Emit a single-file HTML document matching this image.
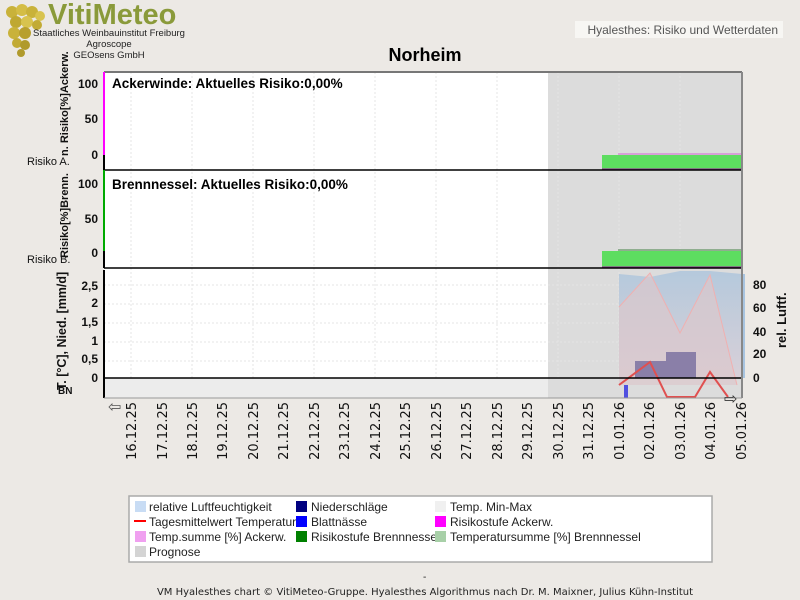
<!DOCTYPE html>
<html><head><meta charset="utf-8"><style>
body{margin:0;background:#ecE9e5;}
svg{display:block;font-family:"Liberation Sans",sans-serif;}
</style></head><body>
<svg width="800" height="600" viewBox="0 0 800 600">
<rect width="800" height="600" fill="#ece9e5"/>
<!-- logo -->
<g>
<circle cx="12" cy="12" r="6" fill="#c9b23a"/><circle cx="22" cy="10" r="6" fill="#d4bd45"/><circle cx="32" cy="12" r="6" fill="#c9b23a"/><circle cx="40" cy="16" r="5" fill="#d8c34e"/>
<circle cx="16" cy="22" r="6" fill="#bfa832"/><circle cx="27" cy="22" r="6" fill="#d8c34e"/><circle cx="37" cy="25" r="5" fill="#c2ab35"/>
<circle cx="14" cy="33" r="6" fill="#c9b23a"/><circle cx="25" cy="33" r="6" fill="#b89f2e"/>
<circle cx="17" cy="43" r="5" fill="#c2ab35"/><circle cx="25" cy="45" r="5" fill="#b09a2c"/><circle cx="21" cy="53" r="4" fill="#b09a2c"/>
</g>
<text x="48" y="24" font-size="29" font-weight="bold" fill="#8a9a3a">VitiMeteo</text>
<text x="109" y="36" font-size="9.5" text-anchor="middle" fill="#222">Staatliches Weinbauinstitut Freiburg</text>
<text x="109" y="47" font-size="9.5" text-anchor="middle" fill="#222">Agroscope</text>
<text x="109" y="58" font-size="9.5" text-anchor="middle" fill="#222">GEOsens GmbH</text>
<rect x="575" y="21" width="208" height="17" fill="#f7f6f3"/>
<text x="778" y="34" font-size="12" text-anchor="end" fill="#555">Hyalesthes: Risiko und Wetterdaten</text>
<text x="425" y="61" font-size="18" font-weight="bold" text-anchor="middle" fill="#000">Norheim</text>

<rect x="104" y="72" width="638" height="306" fill="#fff"/>
<rect x="104" y="378" width="638" height="20" fill="#ececec"/>
<rect x="548" y="72" width="194" height="326" fill="#dcdcdc"/>
<g stroke="#e4e4e4" stroke-dasharray="2,2" stroke-width="1">
<line x1="131" y1="72" x2="131" y2="378"/><line x1="192" y1="72" x2="192" y2="378"/><line x1="253" y1="72" x2="253" y2="378"/><line x1="314" y1="72" x2="314" y2="378"/><line x1="375" y1="72" x2="375" y2="378"/><line x1="436" y1="72" x2="436" y2="378"/><line x1="497" y1="72" x2="497" y2="378"/><line x1="558" y1="72" x2="558" y2="378"/><line x1="619" y1="72" x2="619" y2="378"/><line x1="680" y1="72" x2="680" y2="378"/>
<line x1="104" y1="285" x2="742" y2="285"/><line x1="104" y1="304" x2="742" y2="304"/><line x1="104" y1="323" x2="742" y2="323"/><line x1="104" y1="342" x2="742" y2="342"/><line x1="104" y1="361" x2="742" y2="361"/>
</g>
<rect x="618" y="153" width="124" height="3" fill="#d8a0d8"/>
<rect x="602" y="155" width="140" height="14" fill="#5ddd60"/>
<line x1="602" y1="169" x2="742" y2="169" stroke="#a020a0"/>
<rect x="618" y="249" width="124" height="3" fill="#8fae8f"/>
<rect x="602" y="251" width="140" height="16" fill="#5ddd60"/>
<line x1="602" y1="267" x2="742" y2="267" stroke="#a020a0"/>
<defs><linearGradient id="hum" x1="0" y1="0" x2="0" y2="1"><stop offset="0" stop-color="#b5c9dc"/><stop offset="1" stop-color="#d8d0d8"/></linearGradient></defs>
<polygon points="619,274 650,277 680,271 710,271 742,274 742,378 619,378" fill="url(#hum)"/>
<polygon points="619,307 650,273 680,333 710,275 737,385 619,385" fill="#dcc8cc" opacity="0.7"/>
<polyline points="619,307 650,273 680,333 710,275 737,385" fill="none" stroke="#f0b0b0"/>
<rect x="635" y="361" width="31" height="17" fill="#8a7fa8"/>
<rect x="666" y="352" width="30" height="26" fill="#8a7fa8"/>
<rect x="624" y="385" width="4" height="13" fill="#5050e0"/>
<polyline points="619,385 650,362 667,397 695,397 710,372 728,397" fill="none" stroke="#e05050" stroke-width="2"/>
<g stroke="#000" stroke-width="1.5">
<line x1="104" y1="170" x2="742" y2="170"/><line x1="104" y1="268" x2="742" y2="268"/><line x1="104" y1="378" x2="742" y2="378"/>
</g>
<line x1="104" y1="72" x2="742" y2="72" stroke="#777" stroke-width="2"/>
<line x1="742" y1="72" x2="742" y2="398" stroke="#888" stroke-width="2"/>
<line x1="104" y1="72" x2="104" y2="155" stroke="#ff00ff" stroke-width="2"/>
<line x1="104" y1="155" x2="104" y2="170" stroke="#000" stroke-width="2"/>
<line x1="104" y1="170" x2="104" y2="251" stroke="#00aa00" stroke-width="2"/>
<line x1="104" y1="251" x2="104" y2="268" stroke="#000" stroke-width="2"/>
<line x1="104" y1="270" x2="104" y2="398" stroke="#000" stroke-width="2"/>
<line x1="104" y1="398" x2="742" y2="398" stroke="#999"/>
<line x1="744" y1="274" x2="744" y2="378" stroke="#a8c4e0" stroke-width="2"/>
<text x="108" y="412" font-size="16" fill="#555">⇦</text><text x="724" y="404" font-size="16" fill="#333">⇨</text>
<g font-size="12" font-weight="bold" text-anchor="end" fill="#111">
<text x="98" y="88">100</text><text x="98" y="123">50</text><text x="98" y="159">0</text>
<text x="98" y="188">100</text><text x="98" y="223">50</text><text x="98" y="257">0</text>
<text x="98" y="290">2,5</text><text x="98" y="307">2</text><text x="98" y="326">1,5</text><text x="98" y="345">1</text><text x="98" y="363">0,5</text><text x="98" y="382">0</text>
</g>
<g font-size="12" font-weight="bold" fill="#111">
<text x="753" y="289">80</text><text x="753" y="312">60</text><text x="753" y="336">40</text><text x="753" y="358">20</text><text x="753" y="382">0</text>
<text transform="translate(786,348) rotate(-90)" font-size="13">rel. Luftf.</text>
<text transform="translate(68,156) rotate(-90)" font-size="11">n. Risiko[%]Ackerw.</text>
<text transform="translate(68,258) rotate(-90)" font-size="11">Risiko[%]Brenn.</text>
<text transform="translate(66,390) rotate(-90)" font-size="12.5">T. [°C], Nied. [mm/d]</text>
</g>
<text x="27" y="165" font-size="11" fill="#111">Risiko A.</text>
<text x="27" y="263" font-size="11" fill="#111">Risiko B.</text>
<text x="58" y="394" font-size="10" font-weight="bold" fill="#111">BN</text>
<text x="112" y="88" font-size="13.5" font-weight="bold" fill="#000">Ackerwinde: Aktuelles Risiko:0,00%</text>
<text x="112" y="189" font-size="13.5" font-weight="bold" fill="#000">Brennnessel: Aktuelles Risiko:0,00%</text>
<g font-size="13" fill="#111" text-anchor="end" font-family="DejaVu Sans,sans-serif">
<text transform="translate(136,402) rotate(-90)">16.12.25</text>
<text transform="translate(167,402) rotate(-90)">17.12.25</text>
<text transform="translate(197,402) rotate(-90)">18.12.25</text>
<text transform="translate(227,402) rotate(-90)">19.12.25</text>
<text transform="translate(258,402) rotate(-90)">20.12.25</text>
<text transform="translate(288,402) rotate(-90)">21.12.25</text>
<text transform="translate(319,402) rotate(-90)">22.12.25</text>
<text transform="translate(349,402) rotate(-90)">23.12.25</text>
<text transform="translate(380,402) rotate(-90)">24.12.25</text>
<text transform="translate(410,402) rotate(-90)">25.12.25</text>
<text transform="translate(441,402) rotate(-90)">26.12.25</text>
<text transform="translate(471,402) rotate(-90)">27.12.25</text>
<text transform="translate(502,402) rotate(-90)">28.12.25</text>
<text transform="translate(532,402) rotate(-90)">29.12.25</text>
<text transform="translate(563,402) rotate(-90)">30.12.25</text>
<text transform="translate(593,402) rotate(-90)">31.12.25</text>
<text transform="translate(624,402) rotate(-90)">01.01.26</text>
<text transform="translate(654,402) rotate(-90)">02.01.26</text>
<text transform="translate(685,402) rotate(-90)">03.01.26</text>
<text transform="translate(715,402) rotate(-90)">04.01.26</text>
<text transform="translate(746,402) rotate(-90)">05.01.26</text>
</g>
<rect x="129" y="496" width="583" height="66" fill="#fff" stroke="#aaa" stroke-width="1.5"/>
<g font-size="12" fill="#222">
<rect x="135" y="501" width="11" height="11" fill="#c8dcf4"/><text x="149" y="511">relative Luftfeuchtigkeit</text>
<rect x="134" y="520" width="12" height="2" fill="#f00"/><text x="149" y="526">Tagesmittelwert Temperatur</text>
<rect x="135" y="531" width="11" height="11" fill="#f0a0f0"/><text x="149" y="541">Temp.summe [%] Ackerw.</text>
<rect x="135" y="546" width="11" height="11" fill="#d4d4d4"/><text x="149" y="556">Prognose</text>
<rect x="296" y="501" width="11" height="11" fill="#000080"/><text x="311" y="511">Niederschläge</text>
<rect x="296" y="516" width="11" height="11" fill="#0000ff"/><text x="311" y="526">Blattnässe</text>
<rect x="296" y="531" width="11" height="11" fill="#008000"/><text x="311" y="541">Risikostufe Brennnessel</text>
<rect x="435" y="501" width="11" height="11" fill="#f0f0f0"/><text x="450" y="511">Temp. Min-Max</text>
<rect x="435" y="516" width="11" height="11" fill="#ff00ff"/><text x="450" y="526">Risikostufe Ackerw.</text>
<rect x="435" y="531" width="11" height="11" fill="#a8d0a8"/><text x="450" y="541">Temperatursumme [%] Brennnessel</text>
</g>
<text x="423" y="580" font-size="10" fill="#222">-</text>
<text x="425" y="595" font-size="10" text-anchor="middle" fill="#222" font-family="DejaVu Sans,sans-serif">VM Hyalesthes chart © VitiMeteo-Gruppe. Hyalesthes Algorithmus nach Dr. M. Maixner, Julius Kühn-Institut</text>
</svg>
</body></html>
